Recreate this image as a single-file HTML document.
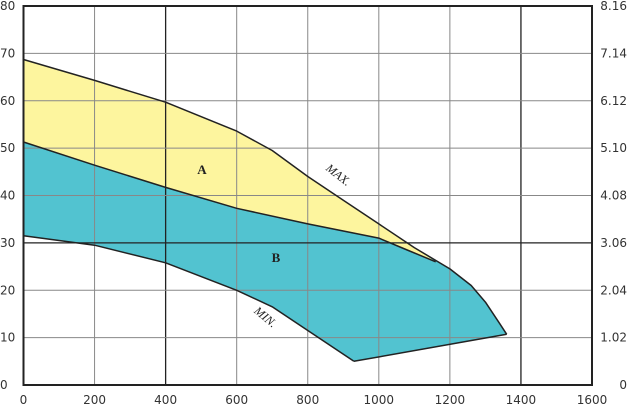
<!DOCTYPE html>
<html><head><meta charset="utf-8"><style>
html,body{margin:0;padding:0;background:#fff;}
svg{display:block;}
text{font-family:"DejaVu Sans","Liberation Sans",sans-serif;font-size:12px;fill:#333;}
</style></head><body>
<svg id="chart" width="629" height="409"></svg>
<script>
const xTicks=[0,200,400,600,800,1000,1200,1400,1600];
const yTicks=[0,10,20,30,40,50,60,70,80];
const yRightLabels=["0","1.02","2.04","3.06","4.08","5.10","6.12","7.14","8.16"];
const maxFlow=[0,200,400,600,700,800,900,1000,1100,1200,1260,1300,1340,1360];
const maxHead=[68.7,64.3,59.7,53.6,49.5,44,39,34,29,24.5,21,17.5,13,10.7];
const midFlow=[0,200,400,600,800,1000,1080,1160];
const midHead=[51.3,46.4,41.7,37.3,34,31,28.5,26];
const minFlow=[0,200,400,600,700,800,930];
const minHead=[31.5,29.5,25.8,20,16.5,11.5,5];
const baseFlow=[930,1360];
const baseHead=[5,10.7];
const NS="http://www.w3.org/2000/svg";
const svg=document.getElementById('chart');
const X0=23.5,X1=592,Y0=385,Y1=6;
const sx=v=>X0+(v-0)/1600*(X1-X0);
const sy=v=>Y0-(v/80)*(Y0-Y1);
function mk(tag,attrs){const e=document.createElementNS(NS,tag);for(const k in attrs)e.setAttribute(k,attrs[k]);svg.appendChild(e);return e;}
function pts(fx,fy){return fx.map((f,i)=>sx(f).toFixed(1)+","+sy(fy[i]).toFixed(1));}
// cyan region: max curve -> base line reversed -> min reversed
let cyanPts=pts(maxFlow,maxHead).concat(pts(baseFlow,baseHead).reverse()).concat(pts(minFlow,minHead).reverse());
let cyan=mk('polygon',{points:cyanPts.join(' '),fill:'#52c3d0'});


// yellow region: max up to merge, mid reversed
const mergeIdx=maxFlow.findIndex(f=>f>=1160);
let yf=maxFlow.filter(f=>f<1160),yh=maxHead.slice(0,yf.length);
let yPts=pts(yf,yh).concat([sx(1160).toFixed(1)+","+sy(26).toFixed(1)]).concat(pts(midFlow,midHead).reverse());
let yel=mk('polygon',{points:yPts.join(' '),fill:'#fdf59e'});


// grid
xTicks.forEach((t,i)=>{
 const dark=(t===400||t===1400);
 let l=mk('line',{x1:sx(t),x2:sx(t),y1:Y1,y2:Y0,stroke:dark?'#222':'#888','stroke-width':dark?1.3:1});
 
 
 let tx=mk('text',{x:sx(t),y:404,'text-anchor':'middle'});tx.textContent=t;
 
 
});
yTicks.forEach((t,i)=>{
 const dark=(t===30);
 let l=mk('line',{x1:X0,x2:X1,y1:sy(t),y2:sy(t),stroke:dark?'#222':'#888','stroke-width':dark?1.3:1});
 
 
 let tx=mk('text',{x:0,y:sy(t)+4,'text-anchor':'start'});tx.textContent=t;
 
 
 let tr=mk('text',{x:627,y:sy(t)+4,'text-anchor':'end'});tr.textContent=yRightLabels[i];
 
 
});
let frame=mk('rect',{x:X0,y:Y1,width:X1-X0,height:Y0-Y1,fill:'none',stroke:'#222','stroke-width':2});


function curve(fx,fy,name){let p=mk('polyline',{points:pts(fx,fy).join(' '),fill:'none',stroke:'#222','stroke-width':1.5,'stroke-linejoin':'round'});
 
 }
curve(maxFlow,maxHead,'max-curve');
curve(midFlow,midHead,'mid-curve');
curve(minFlow,minHead,'min-curve');
curve(baseFlow,baseHead,'base-line');
function lbl(txt,x,y,rot,name,bold){let t=mk('text',{x:x,y:y,'text-anchor':'middle',transform:rot?`rotate(${rot} ${x} ${y})`:'' ,style:`font-family:'Liberation Serif',serif;font-size:${bold?13:12}px;${bold?'font-weight:bold;':'font-style:italic;'}fill:#222`});t.textContent=txt;
 
 }
lbl('MAX.',336,178,38,'max-label',false);
lbl('MIN.',263,320,40,'min-label',false);
lbl('A',202,174,0,'region-a-label',true);
lbl('B',276,262,0,'region-b-label',true);
</script>
</body></html>
